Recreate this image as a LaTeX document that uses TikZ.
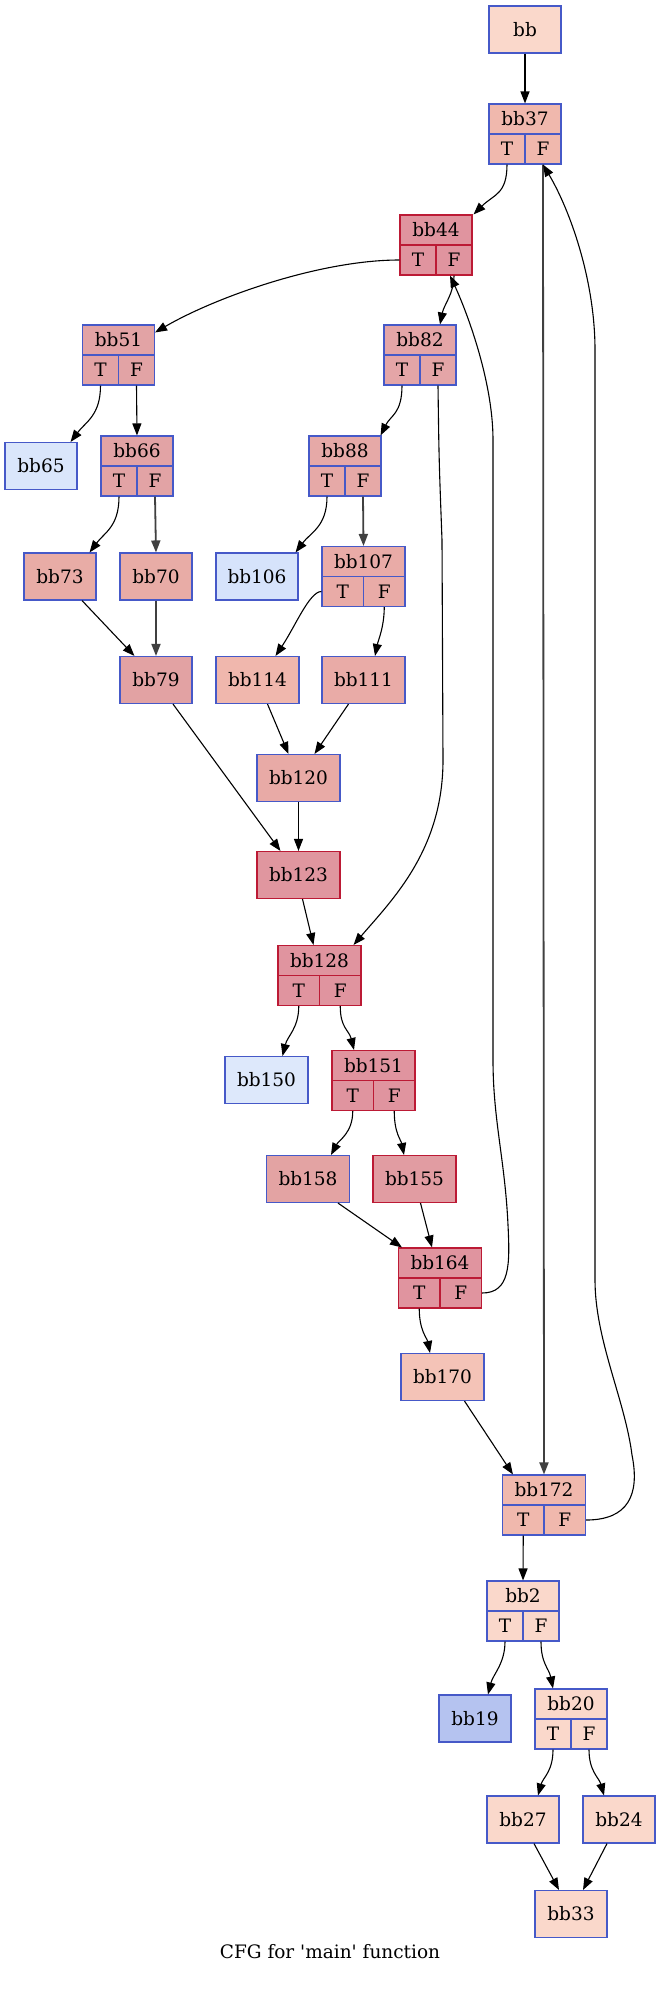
\documentclass[tikz,border=0pt]{standalone}
\usepackage{fontspec}
\setmainfont{DejaVu Serif}
\usetikzlibrary{arrows.meta}
\definecolor{bblue}{HTML}{4659C8}
\definecolor{bred}{HTML}{BC1A35}
\definecolor{cA}{HTML}{FAD8CB}
\definecolor{cB}{HTML}{F0B8AD}
\definecolor{cC}{HTML}{E0949F}
\definecolor{cD}{HTML}{E2A3A5}
\definecolor{cE}{HTML}{DAE6FB}
\definecolor{cF}{HTML}{E8ACA6}
\definecolor{cG}{HTML}{E4A5A7}
\definecolor{cH}{HTML}{E6A9A7}
\definecolor{cI}{HTML}{D6E3FB}
\definecolor{cJ}{HTML}{E9ABA7}
\definecolor{cK}{HTML}{F0B7AD}
\definecolor{cL}{HTML}{E0969F}
\definecolor{cM}{HTML}{DDE8FB}
\definecolor{cN}{HTML}{E3A3A3}
\definecolor{cO}{HTML}{E19CA2}
\definecolor{cP}{HTML}{F4C3B7}
\definecolor{cQ}{HTML}{B5C3F0}
\definecolor{cR}{HTML}{E2A2A3}
\definecolor{cS}{HTML}{E8AAA6}
\newcommand\recnode[7]{%
  \node[hdr, minimum width=#4pt, fill=#6, draw=#7] (#1) at (#2,#3+15) {#5};
  \node[prt, minimum width=#4pt/2, fill=#6, draw=#7] (#1T) at (#2-#4/4,#3+45) {T};
  \node[prt, minimum width=#4pt/2, fill=#6, draw=#7] (#1F) at (#2+#4/4,#3+45) {F};
}
\newcommand\simnode[6]{%
  \node[sbox, minimum width=#4pt, fill=#5, draw=#6] (#1) at (#2,#3) {#1};
}
\begin{document}
\begin{tikzpicture}[x=1pt,y=-1pt,
  every node/.style={font=\fontsize{18.5}{22}\selectfont},
  hdr/.style={rectangle, inner sep=0pt, minimum height=30pt, line width=1.1pt},
  prt/.style={rectangle, inner sep=0pt, minimum height=30pt, line width=1.1pt},
  sbox/.style={rectangle, inner sep=0pt, minimum height=47pt, line width=1.1pt},
  cfe/.style={draw=black, line width=1.1pt, -{Triangle[length=12pt,width=9pt]}},
  cfeh/.style={draw=black!75, line width=1.8pt, -{Triangle[length=12pt,width=9pt]}}]
\fill[white] (0,0) rectangle (660,1989);
\useasboundingbox (0,0) rectangle (660,1989);

% nodes
\simnode{bb}{525}{29.5}{72}{cA}{bblue}
\recnode{bb37}{525}{104}{72}{bb37}{cB}{bblue}
\recnode{bb44}{436}{215}{72}{bb44}{cC}{bred}
\recnode{bb51}{118.5}{325}{72}{bb51}{cD}{bblue}
\recnode{bb82}{420}{325}{72}{bb82}{cG}{bblue}
\simnode{bb65}{41}{466}{72}{cE}{bblue}
\recnode{bb66}{137}{436}{72}{bb66}{cD}{bblue}
\recnode{bb88}{345}{436}{72}{bb88}{cH}{bblue}
\simnode{bb73}{60}{576.5}{72}{cF}{bblue}
\simnode{bb70}{156}{576.5}{72}{cF}{bblue}
\simnode{bb106}{257}{576.5}{82}{cI}{bblue}
\recnode{bb107}{363.5}{546.5}{83}{bb107}{cJ}{bblue}
\simnode{bb79}{156}{680}{72}{cR}{bblue}
\simnode{bb114}{257.5}{680}{83}{cK}{bblue}
\simnode{bb111}{363.5}{680}{83}{cJ}{bblue}
\simnode{bb120}{298.5}{778}{83}{cS}{bblue}
\simnode{bb123}{298.5}{875}{83}{cL}{bred}
\recnode{bb128}{319.5}{945.5}{83}{bb128}{cC}{bred}
\simnode{bb150}{266.5}{1080}{83}{cM}{bblue}
\recnode{bb151}{373.5}{1050.5}{83}{bb151}{cC}{bred}
\simnode{bb158}{308}{1179}{83}{cN}{bblue}
\simnode{bb155}{414.5}{1179}{83}{cO}{bred}
\recnode{bb164}{440}{1248}{83}{bb164}{cC}{bred}
\simnode{bb170}{442.5}{1377}{83}{cP}{bblue}
\recnode{bb172}{544}{1475}{83}{bb172}{cB}{bblue}
\recnode{bb2}{523}{1581}{72}{bb2}{cA}{bblue}
\simnode{bb19}{475}{1718.5}{72}{cQ}{bblue}
\recnode{bb20}{571}{1689}{72}{bb20}{cA}{bblue}
\simnode{bb27}{523}{1819.5}{72}{cA}{bblue}
\simnode{bb24}{619}{1819.5}{72}{cA}{bblue}
\simnode{bb33}{571}{1914}{72}{cA}{bblue}

\node (cap) at (330,1952) {CFG for \textquotesingle main\textquotesingle{} function};

% edges
\draw[cfe] (bb.south) -- (bb37.north);
\draw[cfe] (bb37T.south) .. controls +(0,30) and +(20,-20) .. ([xshift=1pt]bb44.north east);
\draw[cfeh] (bb37F.south) -- (bb172.north);
\draw[cfe] (bb44T.west) .. controls +(-80,0) and +(60,-35) .. ([yshift=-8pt]bb51.north east);
\draw[cfe] (bb44F.south) .. controls +(0,18) and +(4,-20) .. ([xshift=20pt]bb82.north);
\draw[cfe] (bb164F.east) .. controls +(28,0) and (510,1265) .. (508,1225)
  .. controls (505,1160) and (493,1120) .. (493,1060)
  -- (493,440) .. controls (493,380) and (466,310) .. ([xshift=-4pt]bb44F.south);
\draw[cfe] (bb51T.south) .. controls +(0,30) and +(15,-20) .. ([xshift=-7pt]bb65.north east);
\draw[cfe] (bb51F.south) -- (bb66.north);
\draw[cfe] (bb66T.south) .. controls +(0,30) and +(15,-20) .. ([xshift=-7pt]bb73.north east);
\draw[cfeh] (bb66F.south) -- (bb70.north);
\draw[cfe] ([xshift=22pt]bb73.south) -- ([xshift=15pt]bb79.north west);
\draw[cfeh] (bb70.south) -- (bb79.north);
\draw[cfe] (bb82T.south) .. controls +(0,28) and +(10,-20) .. ([xshift=-1pt]bb88.north east);
\draw[cfe] (bb82F.south) .. controls (439,460) .. (442,540) -- (443,760)
  .. controls (443,850) and (392,900) .. ([xshift=-8pt]bb128.north east);
\draw[cfe] (bb88T.south) .. controls +(0,30) and +(15,-20) .. ([xshift=-3pt]bb106.north east);
\draw[cfeh] (bb88F.south) -- (bb107.north);
\draw[cfe] (bb107T.west) .. controls +(-12,0) and +(20,-30) .. ([xshift=18pt]bb114.north);
\draw[cfe] (bb107F.south) .. controls +(0,20) and +(3,-15) .. ([xshift=11.5pt]bb111.north);
\draw[cfe] ([xshift=10pt]bb114.south) -- ([xshift=-10pt]bb120.north);
\draw[cfe] ([xshift=-15pt]bb111.south) -- ([xshift=16pt]bb120.north);
\draw[cfe] ([xshift=17pt]bb79.south) -- ([xshift=24pt]bb123.north west);
\draw[cfe] (bb120.south) -- (bb123.north);
\draw[cfe] ([xshift=4pt]bb123.south) -- ([xshift=-6pt]bb128.north);
\draw[cfe] (bb128T.south) .. controls +(0,22) and +(5,-20) .. ([xshift=16pt]bb150.north);
\draw[cfe] (bb128F.south) .. controls +(0,22) and +(-5,-20) .. ([xshift=-19.5pt]bb151.north);
\draw[cfe] (bb151T.south) .. controls +(0,22) and +(8,-15) .. ([xshift=23pt]bb158.north);
\draw[cfe] (bb151F.south) .. controls +(0,22) and +(-3,-15) .. ([xshift=-10.5pt]bb155.north);
\draw[cfe] ([xshift=30pt]bb158.south) -- ([xshift=4pt]bb164.north west);
\draw[cfe] ([xshift=6pt]bb155.south) -- ([xshift=-8pt]bb164.north);
\draw[cfe] (bb164T.south) .. controls +(0,22) and +(-3,-15) .. ([xshift=-12.5pt]bb170.north);
\draw[cfe] ([xshift=22pt]bb170.south) -- ([xshift=11pt]bb172.north west);
\draw[cfe] (bb172F.east) .. controls +(42,0) and (640,1495) .. (632,1455)
  .. controls (625,1400) and (595,1340) .. (595,1280)
  -- (595,350) .. controls (595,280) and (570,210) .. (bb37F.south);
\draw[cfe] (bb172T.south) -- (bb2.north);
\draw[cfe] (bb2T.south) .. controls +(0,22) and +(5,-20) .. ([xshift=13pt]bb19.north);
\draw[cfe] (bb2F.south) .. controls +(0,22) and +(-4,-20) .. ([xshift=-18pt]bb20.north);
\draw[cfe] (bb20T.south) .. controls +(0,22) and +(5,-18) .. ([xshift=15pt]bb27.north);
\draw[cfe] (bb20F.south) .. controls +(0,22) and +(-5,-18) .. ([xshift=-15pt]bb24.north);
\draw[cfe] ([xshift=11pt]bb27.south) -- ([xshift=-12pt]bb33.north);
\draw[cfe] ([xshift=-12pt]bb24.south) -- ([xshift=12pt]bb33.north);
\end{tikzpicture}
\end{document}
